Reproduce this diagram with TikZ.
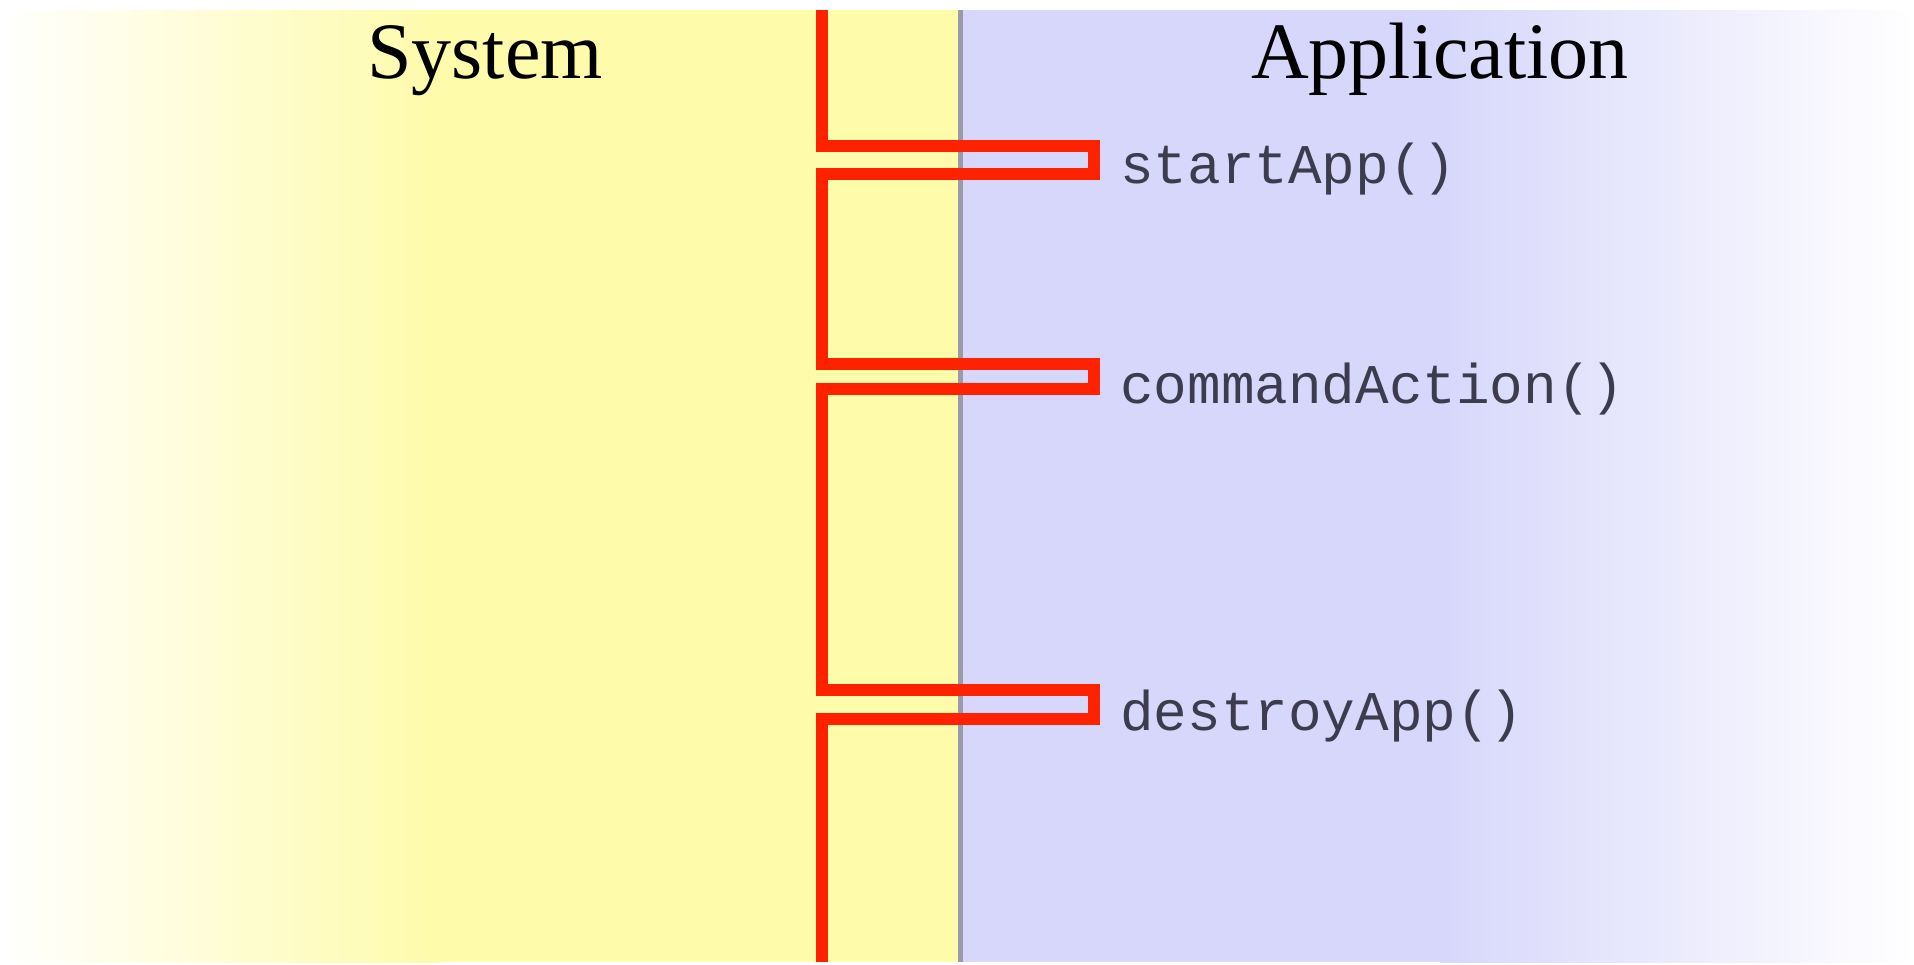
\documentclass[tikz,border=0pt]{standalone}
\usepackage{fontspec}
\setmainfont{Liberation Serif}
\newfontfamily\monofont{Liberation Mono}
\definecolor{sysyellow}{HTML}{FEFBAA}
\definecolor{applav}{HTML}{D7D7FB}
\definecolor{divgray}{HTML}{9A9AAA}
\definecolor{flowred}{HTML}{FF2200}
\definecolor{calltext}{HTML}{3C3C4E}
\tikzset{
  title/.style={anchor=base, inner sep=0pt, font=\fontsize{80}{90}\selectfont, text=black},
  call/.style={anchor=base west, inner sep=0pt, font=\monofont\fontsize{56}{64}\selectfont, text=calltext},
  flow/.style={draw=flowred, line width=12pt, line join=miter}
}
\begin{document}
\begin{tikzpicture}[x=1pt, y=-1pt]
\useasboundingbox (0,0) rectangle (1914,964);
\fill[white] (0,0) rectangle (1914,964);
% System panel
\shade[left color=white, right color=sysyellow] (0,10) rectangle (440,962);
\fill[sysyellow] (430,10) rectangle (960,962);
% Application panel
\shade[left color=applav, right color=white] (1440,10) rectangle (1914,962);
\fill[applav] (960,10) rectangle (1450,962);
% divider
\draw[divgray, line width=5pt] (960,10) -- (960,962);
% titles
\node[title] (sys) at (485,78) {System};
\node[title] (app) at (1440,78) {Application};
% call labels
\node[call] (start) at (1120,183) {startApp()};
\node[call] (cmd) at (1120,403) {commandAction()};
\node[call] (destroy) at (1120,730) {destroyApp()};
% control flow
\coordinate (top) at (822,10);
\coordinate (bottom) at (822,962);
\draw[flow] (top) -- (822,146) -- (1094,146) -- (1094,174) -- (822,174)
  -- (822,364) -- (1094,364) -- (1094,389) -- (822,389)
  -- (822,690) -- (1094,690) -- (1094,719) -- (822,719) -- (bottom);
\end{tikzpicture}
\end{document}
